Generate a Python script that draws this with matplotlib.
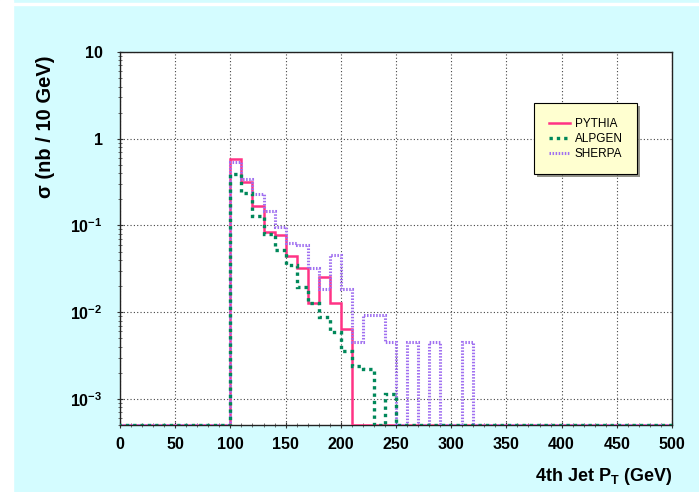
import numpy as np
import matplotlib.pyplot as plt
from matplotlib.ticker import MultipleLocator, LogLocator, NullFormatter
import matplotlib.patheffects as pe

plt.rcParams['font.family'] = ['Liberation Sans', 'DejaVu Sans']
plt.rcParams['mathtext.fontset'] = 'custom'
plt.rcParams['mathtext.rm'] = 'Liberation Sans'
plt.rcParams['mathtext.bf'] = 'Liberation Sans:bold'

# 4th jet pT spectrum, 10 GeV bins starting at 100 GeV (empty bins = 0)
bin_start = 100
pythia = [0.58, 0.32, 0.166, 0.083, 0.077, 0.044, 0.032, 0.0126, 0.0256, 0.0126, 0.0064]
alpgen = [0.387, 0.237, 0.129, 0.0795, 0.0523, 0.035, 0.0196, 0.0126, 0.0087, 0.0059,
          0.0036, 0.00237, 0.00223, 0, 0.00114]
sherpa = [0.537, 0.339, 0.233, 0.145, 0.096, 0.063, 0.059, 0.032, 0.0183, 0.0455,
          0.0183, 0.00453, 0.0092, 0.0092, 0.00453, 0, 0.00453, 0, 0.00453, 0, 0,
          0.00453]

ymin, ymax = 5e-4, 10
edges = np.arange(0, 510, 10)


def full_hist(vals):
    h = np.zeros(len(edges) - 1)
    i0 = bin_start // 10
    h[i0:i0 + len(vals)] = vals
    return np.where(h > 0, h, ymin)


fig = plt.figure(figsize=(6.99, 4.92), dpi=100)
fig.patch.set_facecolor('#D4FCFF')
# white margins from the slide crop
fig.patches.append(plt.Rectangle((0, 0), 13 / 699, 1, transform=fig.transFigure,
                                 color='white', zorder=0))
fig.patches.append(plt.Rectangle((0, 1 - 5 / 492), 1, 1.5 / 492, transform=fig.transFigure,
                                 color='white', zorder=0))

ax = fig.add_axes([120 / 699, 1 - 425 / 492, 552 / 699, 373 / 492])
ax.set_facecolor('white')

ax.stairs(full_hist(pythia), edges, color='#FF3385', lw=1.8, label='PYTHIA', zorder=3)
ax.stairs(full_hist(sherpa), edges, color='#A070F0', lw=2.2, ls=(0, (0.5, 0.5)),
          label='SHERPA', zorder=4)
ax.stairs(full_hist(alpgen), edges, color='#00885A', lw=2.4, ls=(0, (1, 1.2)),
          label='ALPGEN', zorder=5)

ax.set_yscale('log')
ax.set_xlim(0, 500)
ax.set_ylim(ymin, ymax)

ax.xaxis.set_major_locator(MultipleLocator(50))
ax.xaxis.set_minor_locator(MultipleLocator(10))
ax.set_yticks([10, 1, 0.1, 0.01, 0.001])
ax.set_yticklabels(['10', '1', r'$\mathbf{10^{-1}}$', r'$\mathbf{10^{-2}}$',
                    r'$\mathbf{10^{-3}}$'])
ax.yaxis.set_minor_locator(LogLocator(base=10, subs=np.arange(2, 10)))
ax.yaxis.set_minor_formatter(NullFormatter())

ax.tick_params(axis='both', which='major', labelsize=11.5, direction='inout', length=5,
               width=0.8, color='#333333')
ax.tick_params(axis='both', which='minor', direction='inout', length=3, width=0.6,
               color='#555555')
for lab in ax.get_xticklabels() + ax.get_yticklabels():
    lab.set_fontweight('bold')
ax.tick_params(axis='x', pad=6)
ax.tick_params(axis='y', pad=10)

ax.grid(True, which='major', ls=(0, (1, 2)), color='#444444', lw=0.8)
ax.set_axisbelow(True)
for s in ax.spines.values():
    s.set_color('#222222')
    s.set_linewidth(1.0)

ax.set_xlabel(r'4th Jet P$_{\mathbf{T}}$ (GeV)', fontsize=13, fontweight='bold',
              loc='right', labelpad=10)
ax.set_ylabel('σ (nb / 10 GeV)', fontsize=14.5, fontweight='bold')
ax.yaxis.set_label_coords(-0.118, 0.80)

handles, labels = ax.get_legend_handles_labels()
order = [labels.index(n) for n in ['PYTHIA', 'ALPGEN', 'SHERPA']]
leg = ax.legend([handles[i] for i in order], [labels[i] for i in order],
                loc='upper left', bbox_to_anchor=(414 / 552, 1 - 51 / 373),
                fontsize=8.5, frameon=True, fancybox=False, borderpad=1.25,
                handlelength=1.8, handletextpad=0.4, labelspacing=0.25,
                borderaxespad=0)
leg.get_frame().set_facecolor('#FFFFD0')
leg.get_frame().set_edgecolor('black')
leg.get_frame().set_linewidth(0.8)
leg.get_frame().set_alpha(1)
leg.get_frame().set_path_effects([pe.SimplePatchShadow(offset=(2, -2), alpha=0.6),
                                  pe.Normal()])

fig.savefig('out.png', dpi=100, facecolor=fig.get_facecolor())
